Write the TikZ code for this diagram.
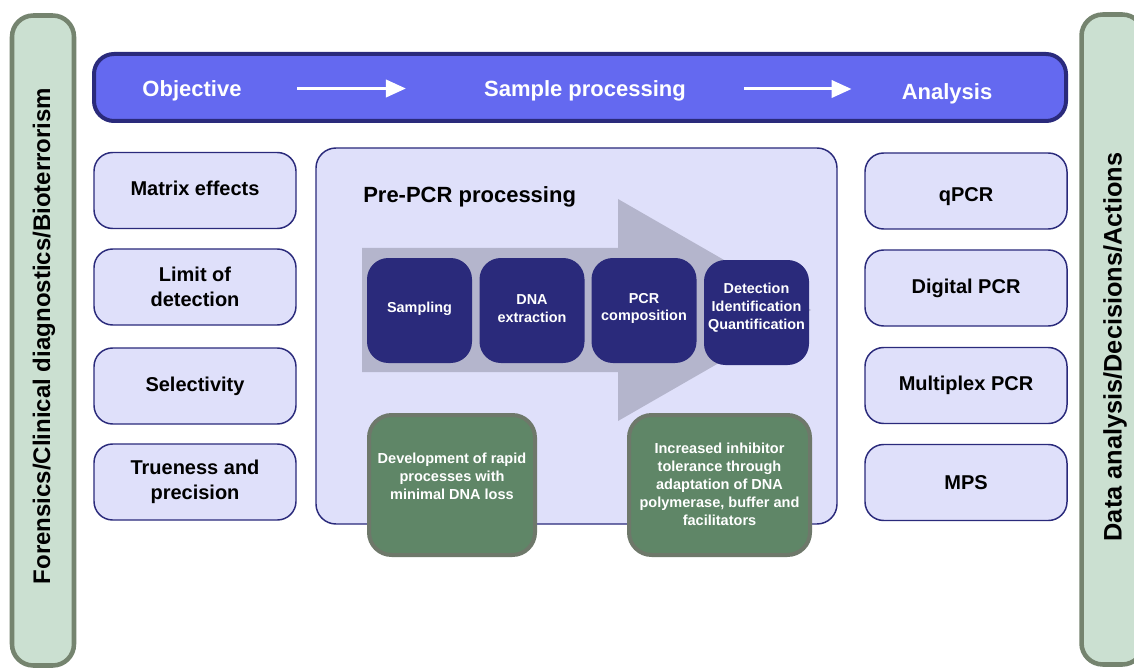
\documentclass[tikz,border=0pt]{standalone}
\usepackage{fontspec}
\setmainfont{Liberation Sans}
\usetikzlibrary{arrows.meta}
\definecolor{barblue}{HTML}{6469F0}
\definecolor{navy}{HTML}{2A2A7B}
\definecolor{lav}{HTML}{DFE0FA}
\definecolor{arrowgray}{HTML}{B4B5CC}
\definecolor{gfill}{HTML}{5F8667}
\definecolor{gborder}{HTML}{6E786A}
\definecolor{sfill}{HTML}{CBE0D1}
\definecolor{sborder}{HTML}{75846F}
\tikzset{
  sidebar/.style={draw=sborder, fill=sfill, line width=3.4pt, rounded corners=16pt, minimum width=487.5pt, minimum height=46.5pt, rotate=90, inner sep=0pt},
  sidetext/.style={rotate=90, font=\fontsize{18}{21}\selectfont\bfseries, inner sep=0pt},
  topbar/.style={draw=navy, fill=barblue, line width=3pt, rounded corners=15pt, minimum width=729pt, minimum height=50.25pt, inner sep=0pt},
  toptext/.style={text=white, font=\fontsize{16.5}{19}\selectfont\bfseries, inner sep=0pt, text depth=0pt},
  toparrow/.style={draw=white, line width=2.25pt, -{Triangle[length=15pt,width=13pt]}},
  lavbox/.style={draw=navy, fill=lav, line width=1.1pt, rounded corners=14pt, minimum width=151.5pt, minimum height=57pt, align=center, font=\fontsize{15}{18.5}\selectfont\bfseries, inner sep=0pt},
  navybox/.style={fill=navy, rounded corners=16pt, minimum width=78.75pt, minimum height=78.75pt, inner sep=0pt},
  navytext/.style={align=center, text=white, font=\fontsize{10.8}{13.3}\selectfont\bfseries, inner sep=0pt},
  greenbox/.style={draw=gborder, fill=gfill, line width=3pt, rounded corners=17pt, minimum height=105pt, inner sep=0pt},
  greentext/.style={align=center, text=white, font=\fontsize{10.9}{13.5}\selectfont\bfseries, inner sep=0pt},
}
\begin{document}
\begin{tikzpicture}[x=0.75pt,y=-0.75pt]
\fill[white] (0,0) rectangle (1134,670);
\clip (0,0) rectangle (1134,670);
% side bars
\node[sidebar] (lbar) at (43,340.5) {};
\node[sidetext] (ltext) at (44,336) {Forensics/Clinical diagnostics/Bioterrorism};
\node[sidebar] (rbar) at (1112.5,339.5) {};
\node[sidetext, font=\fontsize{19}{22}\selectfont\bfseries] (rtext) at (1115,347) {Data analysis/Decisions/Actions};
% top bar
\node[topbar] (tbar) at (580,87.5) {};
\node[toptext] (obj) at (192,88.5) {Objective};
\node[toptext] (sp) at (585,89) {Sample processing};
\node[toptext] (an) at (947,92) {Analysis};
\draw[toparrow, shorten <=41.6pt, shorten >=58.5pt] (obj.east) -- (obj.east -| sp.west);
\draw[toparrow, shorten <=43.5pt, shorten >=37.5pt] (sp.east) -- (sp.east -| an.west);
% left boxes
\node[lavbox, text height=7.5pt, text depth=0pt] (me) at (195,190.5) {Matrix effects};
\node[lavbox] (lod) at (195,287) {Limit of\\detection};
\node[lavbox] (sel) at (195,386) {Selectivity};
\node[lavbox] (tp) at (195,482) {Trueness and\\precision};
% right boxes
\node[lavbox, text height=16pt, text depth=0pt] (qpcr) at (966,191) {qPCR};
\node[lavbox] (dpcr) at (966,288) {Digital PCR};
\node[lavbox] (mpcr) at (966,385.5) {Multiplex PCR};
\node[lavbox] (mps) at (966,482.5) {MPS};
% center box
\draw[draw=navy, fill=lav, line width=1.1pt, rounded corners=15pt] (316,148) rectangle (837,524);
\node[anchor=base west, font=\fontsize{16.5}{19}\selectfont\bfseries, inner sep=0pt] (pre) at (363,203) {Pre-PCR processing};
% big gray arrow
\fill[arrowgray] (362,248) -- (618,248) -- (618,199) -- (811,310) -- (618,421) -- (618,372) -- (362,372) -- cycle;
% navy boxes
\node[navybox] (samp) at (419.5,310.5) {};
\node[navytext] (sampt) at (419.5,308.5) {Sampling};
\node[navybox] (dna) at (532,310.5) {};
\node[navytext] (dnat) at (532,308.5) {DNA\\extraction};
\node[navybox] (pcrc) at (644,310.5) {};
\node[navytext] (pcrct) at (644,308.5) {PCR\\composition};
\node[navybox] (det) at (756.5,312.5) {};
\node[navytext] (dett) at (756.5,307.5) {Detection\\Identification\\Quantification};
% green boxes
\node[greenbox, minimum width=124.5pt] (g1) at (452,485) {};
\node[greentext] (g1t) at (452,476) {Development of rapid\\processes with\\minimal DNA loss};
\node[greenbox, minimum width=135.75pt] (g2) at (719.5,485) {};
\node[greentext] (g2t) at (719.5,484) {Increased inhibitor\\tolerance through\\adaptation of DNA\\polymerase, buffer and\\facilitators};
\end{tikzpicture}
\end{document}
